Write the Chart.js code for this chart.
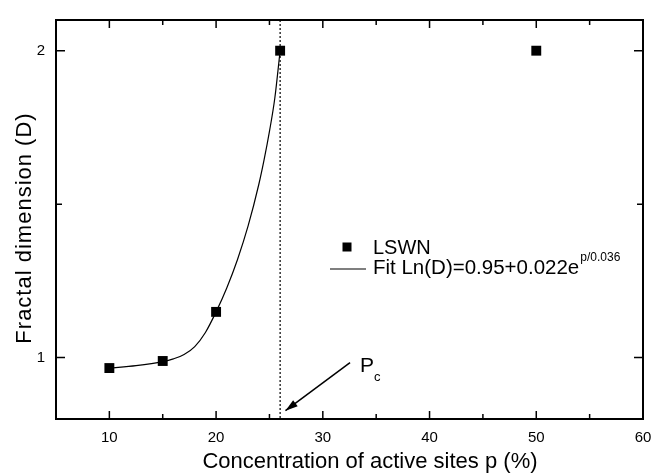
<!DOCTYPE html>
<html>
<head>
<meta charset="utf-8">
<script src="https://cdn.jsdelivr.net/npm/chart.js@4/dist/chart.umd.min.js"></script>
<style>
  html, body { margin: 0; padding: 0; background: #fff; }
  #wrap { width: 665px; height: 475px; position: relative; }
</style>
</head>
<body>
<div id="wrap"><canvas id="fractalChart"></canvas></div>
<script>
"use strict";
// measured points (LSWN)
const pValues = [10, 15, 20, 26, 50];
const dValues = [0.966, 0.989, 1.149, 2.0, 2.0];

// fit curve
const fitP = [10, 12.5, 15, 16, 17, 18, 19, 20, 21, 22, 23, 24, 24.5, 25, 25.5, 26];
const fitD = [0.966, 0.974, 0.987, 0.996, 1.010, 1.036, 1.082, 1.149, 1.227, 1.319, 1.429, 1.564, 1.645, 1.737, 1.845, 2.0];

const xTicks = [10, 20, 30, 40, 50, 60];
const xMinor = [15, 25, 35, 45, 55];
const yTicks = [1, 2];
const yMinor = [1.5];

const xTitle = "Concentration of active sites p (%)";
const yTitle = "Fractal dimension (D)";

const pc = 26; // percolation threshold (dotted line)
const arrowFrom = [32.55, 0.984];
const arrowTo = [26.5, 0.827];

const FONT = "'Liberation Sans', Arial, Helvetica, sans-serif";

const framePlugin = {
  id: "frame",
  afterDatasetsDraw(chart) {
    const { ctx, chartArea: a, scales: { x, y } } = chart;
    ctx.save();
    ctx.strokeStyle = "#000";
    ctx.fillStyle = "#000";

    // dotted line at Pc
    const px = x.getPixelForValue(pc);
    ctx.lineWidth = 1.2;
    ctx.setLineDash([2, 2]);
    ctx.beginPath();
    ctx.moveTo(px, a.top);
    ctx.lineTo(px, a.bottom);
    ctx.stroke();
    ctx.setLineDash([]);

    // frame
    ctx.lineWidth = 2;
    ctx.strokeRect(a.left, a.top, a.right - a.left, a.bottom - a.top);

    // inward ticks
    ctx.lineWidth = 1.5;
    ctx.beginPath();
    const tx = (v, len) => {
      const p = x.getPixelForValue(v);
      ctx.moveTo(p, a.bottom); ctx.lineTo(p, a.bottom - len);
      ctx.moveTo(p, a.top); ctx.lineTo(p, a.top + len);
    };
    const ty = (v, len) => {
      const p = y.getPixelForValue(v);
      ctx.moveTo(a.left, p); ctx.lineTo(a.left + len, p);
      ctx.moveTo(a.right, p); ctx.lineTo(a.right - len, p);
    };
    xTicks.forEach((v) => tx(v, 8));
    xMinor.forEach((v) => tx(v, 5));
    yTicks.forEach((v) => ty(v, 9));
    yMinor.forEach((v) => ty(v, 6));
    ctx.stroke();

    // axis titles
    ctx.textAlign = "center";
    ctx.textBaseline = "middle";
    ctx.font = "22px " + FONT;
    ctx.fillText(xTitle, a.left + 314, a.bottom + 43);
    ctx.save();
    ctx.translate(25, a.top + 208);
    ctx.rotate(-Math.PI / 2);
    ctx.letterSpacing = "1px";
    ctx.fillText(yTitle, 0, 0);
    ctx.restore();

    // legend
    const lx = a.left + 291, ly = a.top + 227;
    ctx.fillRect(lx - 4.5, ly - 4.5, 9, 9);
    ctx.font = "20px " + FONT;
    ctx.textAlign = "left";
    ctx.fillText("LSWN", lx + 26, ly + 1);
    ctx.lineWidth = 1.2;
    ctx.beginPath();
    ctx.moveTo(lx - 17, ly + 22);
    ctx.lineTo(lx + 19, ly + 22);
    ctx.stroke();
    const fitTxt = "Fit Ln(D)=0.95+0.022e";
    ctx.font = "20.5px " + FONT;
    ctx.fillText(fitTxt, lx + 26, ly + 21);
    const w = ctx.measureText(fitTxt).width;
    ctx.font = "12px " + FONT;
    ctx.fillText("p/0.036", lx + 26 + w + 1, ly + 11);

    // Pc arrow
    const x0 = x.getPixelForValue(arrowFrom[0]), y0 = y.getPixelForValue(arrowFrom[1]);
    const x1 = x.getPixelForValue(arrowTo[0]), y1 = y.getPixelForValue(arrowTo[1]);
    ctx.lineWidth = 1.5;
    ctx.beginPath();
    ctx.moveTo(x0, y0);
    ctx.lineTo(x1, y1);
    ctx.stroke();
    const ang = Math.atan2(y1 - y0, x1 - x0);
    ctx.beginPath();
    ctx.moveTo(x1, y1);
    ctx.lineTo(x1 - 13 * Math.cos(ang - 0.3), y1 - 13 * Math.sin(ang - 0.3));
    ctx.lineTo(x1 - 13 * Math.cos(ang + 0.3), y1 - 13 * Math.sin(ang + 0.3));
    ctx.closePath();
    ctx.fill();

    ctx.font = "21px " + FONT;
    ctx.fillText("P", x0 + 10, y0 + 4);
    ctx.font = "13px " + FONT;
    ctx.fillText("c", x0 + 24, y0 + 15);
    ctx.restore();
  },
};

const ctx = document.getElementById("fractalChart");
const chart = new Chart(ctx, {
  type: "scatter",
  data: {
    datasets: [
      {
        label: "LSWN",
        data: pValues.map((p, i) => ({ x: p, y: dValues[i] })),
        pointStyle: "rect",
        pointRadius: 7,
        backgroundColor: "#000",
        borderColor: "#000",
        borderWidth: 0,
        order: 1,
      },
      {
        label: "Fit",
        type: "line",
        data: fitP.map((p, i) => ({ x: p, y: fitD[i] })),
        borderColor: "#000",
        borderWidth: 1.2,
        pointRadius: 0,
        cubicInterpolationMode: "monotone",
        fill: false,
        order: 2,
      },
    ],
  },
  options: {
    responsive: true,
    maintainAspectRatio: false,
    animation: false,
    layout: { padding: { top: 12, right: 22, left: 0, bottom: 0 } },
    plugins: {
      legend: { display: false },
      tooltip: { enabled: false },
    },
    scales: {
      x: {
        type: "linear",
        min: 5,
        max: 60,
        afterBuildTicks: (s) => { s.ticks = xTicks.map((v) => ({ value: v })); },
        afterFit: (s) => { s.height = 56; },
        grid: { display: false, drawTicks: false },
        border: { display: false },
        ticks: { color: "#000", padding: 10, font: { size: 15, family: FONT } },
      },
      y: {
        type: "linear",
        min: 0.8,
        max: 2.1,
        afterBuildTicks: (s) => { s.ticks = yTicks.map((v) => ({ value: v })); },
        afterFit: (s) => { s.width = 56; },
        grid: { display: false, drawTicks: false },
        border: { display: false },
        ticks: { color: "#000", padding: 11, font: { size: 15, family: FONT } },
      },
    },
  },
  plugins: [framePlugin],
});
</script>
</body>
</html>
